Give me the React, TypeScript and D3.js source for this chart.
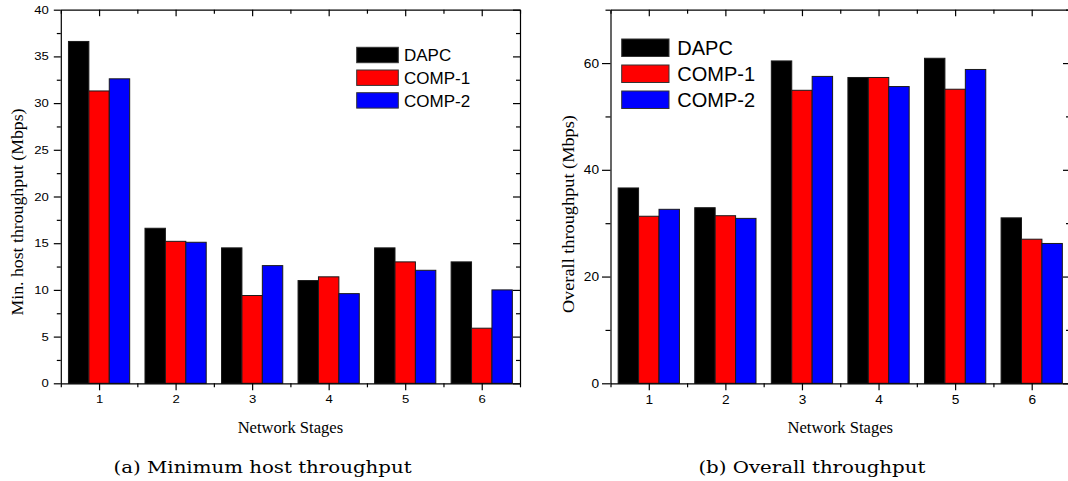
import { useEffect, useRef } from "react";
import * as d3 from "d3";

const stages = [1, 2, 3, 4, 5, 6];
const seriesNames = ["DAPC", "COMP-1", "COMP-2"];
const seriesColors = ["#000000", "#ff0000", "#0000ff"];

// (a) minimum host throughput, Mbps
const minHostDAPC = [36.6, 16.6, 14.5, 11.0, 14.5, 13.0];
const minHostCOMP1 = [31.3, 15.2, 9.4, 11.4, 13.0, 5.9];
const minHostCOMP2 = [32.6, 15.1, 12.6, 9.6, 12.1, 10.0];
const minHostTicks = [0, 5, 10, 15, 20, 25, 30, 35, 40];
const minHostMinor = [2.5, 7.5, 12.5, 17.5, 22.5, 27.5, 32.5, 37.5];

// (b) overall throughput, Mbps
const overallDAPC = [36.6, 32.9, 60.4, 57.3, 60.9, 31.0];
const overallCOMP1 = [31.3, 31.4, 54.9, 57.3, 55.1, 27.0];
const overallCOMP2 = [32.6, 30.9, 57.5, 55.6, 58.8, 26.2];
const overallTicks = [0, 20, 40, 60];
const overallMinor = [10, 30, 50, 70];

const W = 1068;
const H = 481;
const SANS = "'Liberation Sans', Arial, sans-serif";
const SERIF = "'Liberation Serif', 'Times New Roman', serif";
const CAPTION = "'DejaVu Serif', serif";

function styleAxis(g, fontSize, digitW) {
  g.attr("font-family", SANS).attr("font-size", fontSize);
  g.select(".domain").attr("stroke", "#000").attr("stroke-width", 1.2);
  g.selectAll(".tick line").attr("stroke", "#000").attr("stroke-width", 1.2);
  g.selectAll(".tick text")
    .attr("fill", "#000")
    .each(function () {
      const t = d3.select(this);
      const s = t.text();
      if (s) t.attr("textLength", s.length * digitW).attr("lengthAdjust", "spacingAndGlyphs");
    });
}

function drawPanel(svg, p) {
  const x = d3.scaleLinear().domain([0.5, stages.length + 0.5]).range([p.left, p.right]);
  const y = d3.scaleLinear().domain([0, p.yMax]).range([p.bottom, p.top]);
  const step = x(2) - x(1);
  const inner = d3.scaleBand().domain(seriesNames).range([-0.4 * step, 0.4 * step]);
  const halves = d3.range(0.5, stages.length + 1, 1);

  const g = svg.append("g");

  seriesNames.forEach((name, si) => {
    g.append("g")
      .selectAll("rect")
      .data(p.values[si])
      .join("rect")
      .attr("x", (d, i) => x(stages[i]) + inner(name))
      .attr("y", d => y(d))
      .attr("width", inner.bandwidth())
      .attr("height", d => y(0) - y(d))
      .attr("fill", seriesColors[si])
      .attr("stroke", "#1a1a1a")
      .attr("stroke-width", 1);
  });

  // bottom
  const bx = g.append("g").attr("transform", `translate(0,${p.bottom})`)
    .call(d3.axisBottom(x).tickValues(stages).tickSize(7).tickSizeOuter(0).tickPadding(5).tickFormat(d3.format("d")));
  styleAxis(bx, p.tickFont, p.digitW);
  const bm = g.append("g").attr("transform", `translate(0,${p.bottom})`)
    .call(d3.axisBottom(x).tickValues(halves).tickSize(4).tickFormat(() => ""));
  bm.select(".domain").remove();
  styleAxis(bm, p.tickFont, p.digitW);

  // top
  const tx = g.append("g").attr("transform", `translate(0,${p.top})`)
    .call(d3.axisTop(x).tickValues(stages).tickSize(-6.5).tickSizeOuter(0).tickFormat(() => ""));
  styleAxis(tx, p.tickFont, p.digitW);
  const tm = g.append("g").attr("transform", `translate(0,${p.top})`)
    .call(d3.axisTop(x).tickValues(halves).tickSize(-4).tickFormat(() => ""));
  tm.select(".domain").remove();
  styleAxis(tm, p.tickFont, p.digitW);

  // left
  const ly = g.append("g").attr("transform", `translate(${p.left},0)`)
    .call(d3.axisLeft(y).tickValues(p.yMajor).tickSize(p.majorLen).tickSizeOuter(0).tickPadding(p.tickPad));
  styleAxis(ly, p.tickFont, p.digitW);
  const lm = g.append("g").attr("transform", `translate(${p.left},0)`)
    .call(d3.axisLeft(y).tickValues(p.yMinor).tickSize(p.minorLen).tickFormat(() => ""));
  lm.select(".domain").remove();
  styleAxis(lm, p.tickFont, p.digitW);

  // right
  const ry = g.append("g").attr("transform", `translate(${p.right},0)`)
    .call(d3.axisRight(y).tickValues(p.yMajor).tickSize(-7).tickSizeOuter(0).tickFormat(() => ""));
  styleAxis(ry, p.tickFont, p.digitW);
  const rm = g.append("g").attr("transform", `translate(${p.right},0)`)
    .call(d3.axisRight(y).tickValues(p.yMinor).tickSize(-4).tickFormat(() => ""));
  rm.select(".domain").remove();
  styleAxis(rm, p.tickFont, p.digitW);

  // legend
  const lg = g.append("g");
  seriesNames.forEach((name, i) => {
    const ry0 = p.legY + i * p.legStep;
    lg.append("rect")
      .attr("x", p.legX).attr("y", ry0)
      .attr("width", p.legW).attr("height", p.legH)
      .attr("fill", seriesColors[i])
      .attr("stroke", "#333").attr("stroke-width", 1);
    lg.append("text")
      .attr("x", p.legTextX).attr("y", ry0 + p.legH / 2 + p.legFont * 0.36)
      .attr("font-family", SANS).attr("font-size", p.legFont)
      .attr("fill", "#000")
      .text(name);
  });

  // axis titles
  g.append("text")
    .attr("transform", `translate(${p.yTitleX},${(p.top + p.bottom) / 2 + p.yTitleShift}) rotate(-90)`)
    .attr("text-anchor", "middle").attr("dy", "0.35em")
    .attr("font-family", SERIF).attr("font-size", 16)
    .attr("textLength", p.yTitleLen).attr("lengthAdjust", "spacingAndGlyphs")
    .text(p.yTitle);
  g.append("text")
    .attr("x", (p.left + p.right) / 2).attr("y", 432.7)
    .attr("text-anchor", "middle")
    .attr("font-family", SERIF).attr("font-size", 16)
    .attr("textLength", 105.5).attr("lengthAdjust", "spacingAndGlyphs")
    .text("Network Stages");
  g.append("text")
    .attr("x", p.capX).attr("y", 472.7)
    .attr("text-anchor", "middle")
    .attr("font-family", CAPTION).attr("font-size", 17.5)
    .attr("textLength", p.capLen).attr("lengthAdjust", "spacingAndGlyphs")
    .text(p.caption);
}

export default function App() {
  const ref = useRef(null);

  useEffect(() => {
    const svg = d3.select(ref.current);
    svg.selectAll("*").remove();

    drawPanel(svg, {
      left: 60.8, right: 520, top: 9.7, bottom: 383.3,
      yMax: 40, yMajor: minHostTicks, yMinor: minHostMinor,
      majorLen: 7, minorLen: 4, tickPad: 5, tickFont: 11, digitW: 7.3,
      values: [minHostDAPC, minHostCOMP1, minHostCOMP2],
      legX: 356.7, legY: 47.3, legStep: 22.7, legW: 41.6, legH: 15.4, legTextX: 404, legFont: 17,
      yTitle: "Min. host throughput (Mbps)", yTitleX: 17.5, yTitleShift: 15.5, yTitleLen: 207,
      caption: "(a) Minimum host throughput", capX: 262.6, capLen: 298,
    });

    drawPanel(svg, {
      left: 610.5, right: 1070, top: 9.7, bottom: 383.3,
      yMax: 70, yMajor: overallTicks, yMinor: overallMinor,
      majorLen: 8.5, minorLen: 5, tickPad: 3, tickFont: 12.5, digitW: 7.6,
      values: [overallDAPC, overallCOMP1, overallCOMP2],
      legX: 621.7, legY: 39, legStep: 26, legW: 47.3, legH: 17.5, legTextX: 677.3, legFont: 20,
      yTitle: "Overall throughput (Mbps)", yTitleX: 568, yTitleShift: 17.6, yTitleLen: 198,
      caption: "(b) Overall throughput", capX: 811.9, capLen: 227,
    });
  }, []);

  return (
    <svg
      ref={ref}
      width={W}
      height={H}
      style={{ position: "absolute", left: 0, top: 0, background: "#fff" }}
    />
  );
}
